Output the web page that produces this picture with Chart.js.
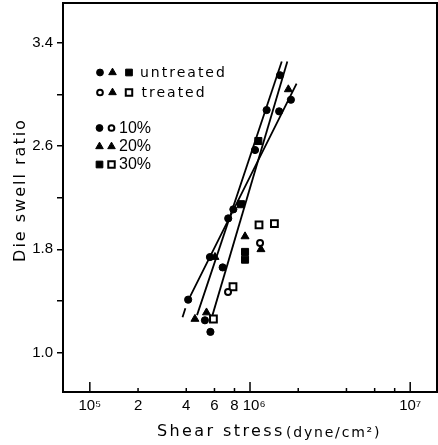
<!DOCTYPE html>
<html>
<head>
<meta charset="utf-8">
<script src="https://cdn.jsdelivr.net/npm/chart.js@4.4.1/dist/chart.umd.min.js"></script>
<style>
  html, body { margin: 0; padding: 0; background: #fff; }
  canvas { display: block; }
</style>
</head>
<body>
<canvas id="swellChart" width="438" height="445"></canvas>
<script>
// Die swell ratio against shear stress (log axis), 10 / 20 / 30 % filler

// 10% filler, untreated (filled circles)
const untreated10X = [4.11e5, 5.23e5, 5.66e5, 6.75e5, 5.62e5, 7.31e5, 7.87e5, 1.075e6, 1.27e6, 1.52e6, 1.54e6, 1.80e6];
const untreated10Y = [1.41, 1.25, 1.16, 1.66, 1.74, 2.04, 2.11, 2.57, 2.88, 2.87, 3.15, 2.96];
// 10% filler, treated (open circles)
const treated10X = [7.29e5, 1.155e6];
const treated10Y = [1.47, 1.85];
// 20% filler (triangles)
const filler20X = [4.53e5, 5.35e5, 6.04e5, 9.31e5, 1.17e6, 1.735e6];
const filler20Y = [1.26, 1.31, 1.74, 1.90, 1.80, 3.04];
// 30% filler, untreated (filled squares)
const untreated30X = [8.79e5, 9.31e5, 9.31e5, 1.127e6];
const untreated30Y = [2.15, 1.78, 1.72, 2.64];
// 30% filler, treated (open squares)
const treated30X = [5.91e5, 7.83e5, 1.138e6, 1.42e6];
const treated30Y = [1.26, 1.51, 1.99, 2.00];

// fitted lines (line 1 has a short dashed lead-in, null = gap)
const line1X = [3.79e5, 3.95e5, 4.0e5, 4.06e5, 1.953e6];
const line1Y = [1.274, 1.344, null, 1.391, 3.085];
const line2X = [4.67e5, 1.578e6];
const line2Y = [1.29, 3.256];
const line3X = [5.83e5, 1.71e6];
const line3Y = [1.29, 3.256];

// axis ticks
const xTickValues = [1e5, 2e5, 4e5, 6e5, 8e5, 1e6, 2e6, 4e6, 6e6, 8e6, 1e7];
const xTickLabels = ["10\u2075", "2", "4", "6", "8", "  10\u2076", "", "", "", "", "10\u2077"];
const yTickValues = [1.0, 1.4, 1.8, 2.2, 2.6, 3.0, 3.4];
const yTickLabels = ["1.0", "", "1.8", "", "2.6", "", "3.4"];

const toPoints = (xs, ys) => xs.map((x, i) => ({ x: x, y: ys[i] }));

const markers = {
    filledCircle: { pointStyle: "circle", radius: 3.6, fill: "#000", borderWidth: 1 },
    openCircle: { pointStyle: "circle", radius: 3, fill: "#fff", borderWidth: 2 },
    triangle: { pointStyle: "triangle", radius: 4.6, fill: "#000", borderWidth: 1 },
    filledSquare: { pointStyle: "rect", radius: 5, fill: "#000", borderWidth: 1 },
    openSquare: { pointStyle: "rect", radius: 4.8, fill: "#fff", borderWidth: 2 }
};

function pointSet(label, xs, ys, m) {
    return {
        label: label,
        data: toPoints(xs, ys),
        pointStyle: m.pointStyle,
        pointRadius: m.radius,
        pointBackgroundColor: m.fill,
        pointBorderColor: "#000",
        pointBorderWidth: m.borderWidth,
        showLine: false
    };
}

function lineSet(label, xs, ys) {
    return {
        label: label,
        data: toPoints(xs, ys),
        showLine: true,
        spanGaps: false,
        pointRadius: 0,
        borderColor: "#000",
        borderWidth: 1.8,
        fill: false
    };
}

// no extra room for half-labels at the ends of the axes
function noEndPadding(s) {
    s.paddingLeft = 0;
    s.paddingRight = 0;
    s.paddingTop = 0;
    s.paddingBottom = 0;
}

// frame, inward x ticks, legend block and axis titles
const decorations = {
    id: "decorations",
    afterDraw(chart) {
        const c = chart.ctx;
        const a = chart.chartArea;
        const xs = chart.scales.x;

        c.save();
        c.strokeStyle = "#000";
        c.fillStyle = "#000";

        c.lineWidth = 2;
        c.strokeRect(a.left, a.top, a.right - a.left, a.bottom - a.top);

        c.lineWidth = 1.5;
        xTickValues.forEach(function (v, i) {
            const px = xs.getPixelForValue(v);
            const len = xTickLabels[i].indexOf("10") >= 0 ? 10 : 4;
            c.beginPath();
            c.moveTo(px, a.bottom);
            c.lineTo(px, a.bottom - len);
            c.stroke();
        });

        function mark(m, x, y) {
            c.fillStyle = m.fill;
            c.strokeStyle = "#000";
            c.lineWidth = m.borderWidth;
            Chart.helpers.drawPoint(c, { pointStyle: m.pointStyle, radius: m.radius * 0.95, rotation: 0, borderWidth: m.borderWidth }, x, y);
        }
        mark(markers.filledCircle, 100, 72.5);
        mark(markers.triangle, 112.5, 72.5);
        mark(markers.filledSquare, 129, 72.5);
        mark(markers.openCircle, 100, 92.5);
        mark(markers.triangle, 112.5, 92.5);
        mark(markers.openSquare, 129, 92.5);
        mark(markers.filledCircle, 99.5, 128);
        mark(markers.openCircle, 111.5, 128);
        mark(markers.triangle, 99.5, 146.5);
        mark(markers.triangle, 111.5, 146.5);
        mark(markers.filledSquare, 99.5, 164.5);
        mark(markers.openSquare, 111.5, 164.5);

        c.fillStyle = "#000";
        c.textBaseline = "middle";
        c.textAlign = "left";
        c.font = "14px 'DejaVu Sans'";
        c.letterSpacing = "2px";
        c.fillText("untreated", 140, 73);
        c.fillText("treated", 141.5, 93);

        c.font = "16px 'Liberation Sans'";
        c.letterSpacing = "0px";
        c.fillText("10%", 119, 128.5);
        c.fillText("20%", 119, 147);
        c.fillText("30%", 119, 165);

        // axis titles
        c.font = "16px 'DejaVu Sans'";
        c.letterSpacing = "2.4px";
        c.fillText("Shear stress", 157, 432);
        c.font = "14px 'DejaVu Sans'";
        c.letterSpacing = "1.8px";
        c.fillText("(dyne/cm\u00b2)", 286, 433);

        c.translate(21, 190);
        c.rotate(-Math.PI / 2);
        c.textAlign = "center";
        c.font = "16px 'DejaVu Sans'";
        c.letterSpacing = "2px";
        c.fillText("Die swell ratio", 0, 0);
        c.restore();
    }
};

const tickFont = { family: "'Liberation Sans', Arial, sans-serif", size: 15 };

new Chart(document.getElementById("swellChart"), {
    type: "scatter",
    data: {
        datasets: [
            pointSet("10% untreated", untreated10X, untreated10Y, markers.filledCircle),
            pointSet("10% treated", treated10X, treated10Y, markers.openCircle),
            pointSet("20%", filler20X, filler20Y, markers.triangle),
            pointSet("30% untreated", untreated30X, untreated30Y, markers.filledSquare),
            pointSet("30% treated", treated30X, treated30Y, markers.openSquare),
            lineSet("fit 1", line1X, line1Y),
            lineSet("fit 2", line2X, line2Y),
            lineSet("fit 3", line3X, line3Y)
        ]
    },
    options: {
        responsive: false,
        animation: false,
        layout: { autoPadding: false, padding: { top: 3, right: 1, left: 0, bottom: 0 } },
        plugins: {
            legend: { display: false },
            tooltip: { enabled: false }
        },
        scales: {
            x: {
                type: "logarithmic",
                min: 6.8e4,
                max: 1.47e7,
                grid: { display: false, drawTicks: false, tickLength: 0 },
                border: { display: false },
                afterBuildTicks: function (s) { s.ticks = xTickValues.map(v => ({ value: v })); },
                afterFit: function (s) { s.height = 53; noEndPadding(s); },
                ticks: {
                    autoSkip: false,
                    maxRotation: 0,
                    padding: 5,
                    color: "#000",
                    font: tickFont,
                    callback: (v, i) => xTickLabels[i]
                }
            },
            y: {
                type: "linear",
                min: 0.694,
                max: 3.71,
                grid: { display: true, drawOnChartArea: false, drawTicks: true, tickLength: 6, color: "#000", lineWidth: 1.5 },
                border: { display: false },
                afterBuildTicks: function (s) { s.ticks = yTickValues.map(v => ({ value: v })); },
                afterFit: function (s) { s.width = 63; noEndPadding(s); },
                ticks: {
                    autoSkip: false,
                    padding: 4,
                    color: "#000",
                    font: tickFont,
                    callback: (v, i) => yTickLabels[i]
                }
            }
        }
    },
    plugins: [decorations]
});
</script>
</body>
</html>
